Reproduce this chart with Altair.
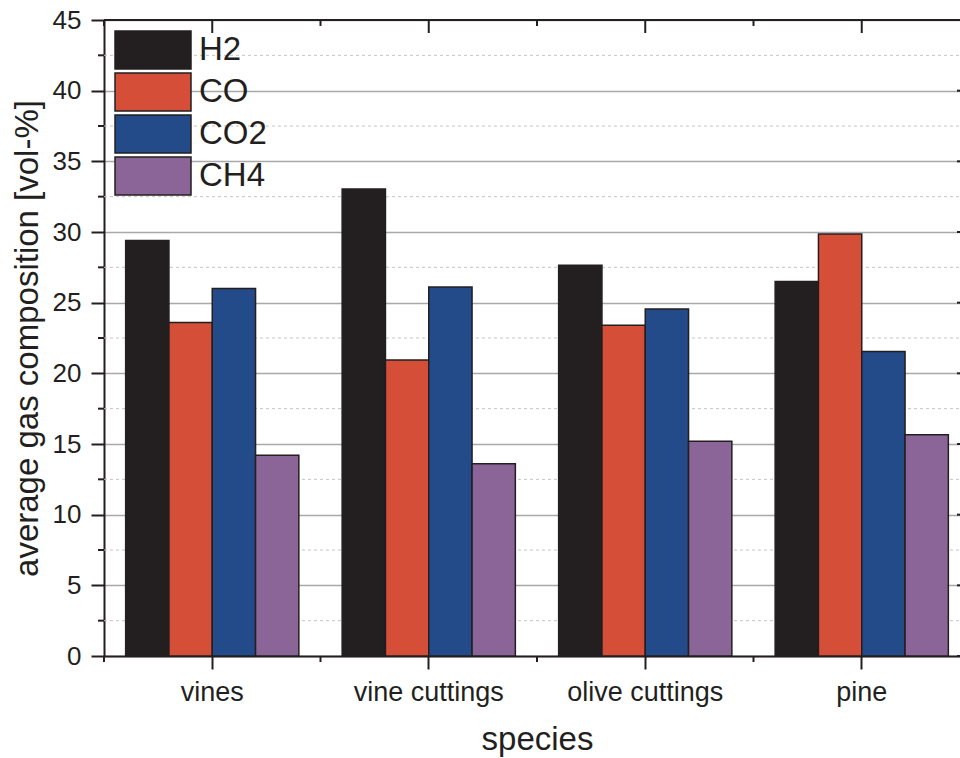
import altair as alt
import pandas as pd

# Average producer-gas composition per wood species
species = ["vines", "vine cuttings", "olive cuttings", "pine"]
gases = ["H2", "CO", "CO2", "CH4"]
h2 = [29.4, 33.05, 27.65, 26.5]
co = [23.6, 20.95, 23.4, 29.85]
co2 = [26.0, 26.1, 24.55, 21.55]
ch4 = [14.2, 13.6, 15.2, 15.65]
gas_colors = ["#231f20", "#d54e38", "#234a89", "#8c6598"]

y_major = list(range(0, 50, 5))
y_minor = [2.5, 7.5, 12.5, 17.5, 22.5, 27.5, 32.5, 37.5, 42.5]

rows = []
for gas, vals in zip(gases, [h2, co, co2, ch4]):
    for sp, v in zip(species, vals):
        rows.append({"species": sp, "gas": gas, "value": v})
df = pd.DataFrame(rows)
sp_df = pd.DataFrame({"species": species})
minor_df = pd.DataFrame({"value": y_minor})
major_df = pd.DataFrame({"value": y_major})

FONT = "Liberation Sans"
INK = "#231f20"
W, H = 856, 636
RANGE = 866  # full x extent of the frame; the right edge runs past the page
STEP = RANGE / 4

x_scale = alt.Scale(range=[0, RANGE], paddingInner=0.2, paddingOuter=0.1)
y_scale = alt.Scale(domain=[0, 45], nice=False)

x_axis = alt.Axis(
    title="species", titleFontSize=33, titleFont=FONT, titleFontWeight="normal",
    titleColor=INK, titlePadding=18,
    labelFont=FONT, labelFontSize=27, labelColor=INK, labelPadding=10, labelAngle=0,
    domainColor=INK, domainWidth=2, tickColor=INK, tickWidth=2, tickSize=13,
    grid=False,
)
y_axis = alt.Axis(
    title="average gas composition [vol-%]", titleFontSize=33, titleFont=FONT,
    titleFontWeight="normal", titleColor=INK, titlePadding=8,
    values=y_major, labelFont=FONT, labelFontSize=26, labelColor=INK, labelPadding=10,
    domainColor=INK, domainWidth=2, tickColor=INK, tickWidth=2, tickSize=13,
    grid=True, gridColor="#a9a9a9", gridWidth=1.3,
)

# minor dashed grid lines
minor_grid = alt.Chart(minor_df).mark_rule(
    color="#c4c4c4", strokeWidth=1, strokeDash=[3, 3]
).encode(y=alt.Y("value:Q", scale=y_scale), x=alt.value(0), x2=alt.value(RANGE))

# minor ticks on the left axis
minor_ticks = alt.Chart(minor_df).mark_rule(color=INK, strokeWidth=2).encode(
    y=alt.Y("value:Q", scale=y_scale), x=alt.value(-6), x2=alt.value(0)
)

# inward ticks of the right frame
right_ticks = alt.Chart(major_df).mark_rule(color=INK, strokeWidth=2).encode(
    y=alt.Y("value:Q", scale=y_scale), x=alt.value(RANGE - 13), x2=alt.value(RANGE)
)

bars = alt.Chart(df).mark_bar(stroke=INK, strokeWidth=1.5, opacity=1).encode(
    x=alt.X("species:N", sort=species, scale=x_scale, axis=x_axis),
    xOffset=alt.XOffset("gas:N", sort=gases,
                        scale=alt.Scale(paddingInner=0, paddingOuter=0)),
    y=alt.Y("value:Q", scale=y_scale, axis=y_axis),
    color=alt.Color(
        "gas:N", sort=gases,
        scale=alt.Scale(domain=gases, range=gas_colors),
        legend=alt.Legend(
            title=None, orient="none", legendX=10, legendY=10, padding=0,
            symbolType="M-1,-0.5H1V0.5H-1Z", symbolSize=5776,
            symbolStrokeColor=INK, symbolStrokeWidth=1.5, symbolOpacity=1,
            clipHeight=40, rowPadding=2, labelOffset=7,
            labelFont=FONT, labelFontSize=33, labelColor=INK,
        ),
    ),
)

# minor ticks at category boundaries (bottom and top)
bottom_minor = alt.Chart(sp_df).mark_rule(color=INK, strokeWidth=2, xOffset=-0.1 * STEP).encode(
    x=alt.X("species:N", sort=species, scale=x_scale, bandPosition=0),
    y=alt.value(H), y2=alt.value(H + 6),
)
top_minor = alt.Chart(sp_df).mark_rule(color=INK, strokeWidth=2, xOffset=-0.1 * STEP).encode(
    x=alt.X("species:N", sort=species, scale=x_scale, bandPosition=0),
    y=alt.value(0), y2=alt.value(6),
)
top_major = alt.Chart(sp_df).mark_rule(color=INK, strokeWidth=2).encode(
    x=alt.X("species:N", sort=species, scale=x_scale),
    y=alt.value(0), y2=alt.value(13),
)
top_line = alt.Chart(sp_df).mark_rule(color=INK, strokeWidth=2).encode(
    x=alt.value(0), x2=alt.value(RANGE), y=alt.value(0)
)

chart = alt.layer(
    minor_grid, bars, minor_ticks, right_ticks, bottom_minor, top_minor, top_major, top_line
).properties(
    width=W, height=H,
    autosize=alt.AutoSizeParams(type="none"),
    padding={"left": 104, "top": 20, "right": 0, "bottom": 102},
    background="white",
).configure_view(stroke=None)

chart.save("out.html", embed_options={"renderer": "svg", "actions": False})
